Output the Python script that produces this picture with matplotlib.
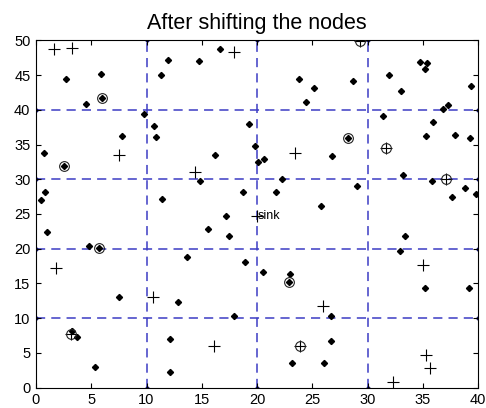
import matplotlib
matplotlib.use("Agg")
import matplotlib.pyplot as plt

plt.rcParams['font.family'] = ['Liberation Sans', 'DejaVu Sans']

# ordinary sensor nodes after the shift
dot_x = [2.70, 5.86, 4.56, 9.79, 10.69, 10.90, 7.81, 11.29, 11.95, 14.77,
         16.60, 23.78, 25.17, 24.43, 19.25, 19.82, 34.77, 35.35, 35.23, 31.95,
         28.71, 33.06, 39.37, 37.24, 36.82, 31.41, 35.92, 35.26, 37.93, 39.30,
         0.72, 0.81, 0.45, 11.38, 0.99, 4.83, 16.15, 20.09, 20.60, 14.86,
         22.22, 18.74, 21.74, 17.18, 15.53, 17.42, 13.66, 26.79, 33.24, 35.83,
         29.00, 38.83, 37.63, 39.76, 25.77, 33.42, 32.97, 7.51, 12.88, 3.30,
         3.72, 12.16, 5.32, 12.10, 18.92, 20.57, 22.95, 17.90, 23.20, 35.16,
         39.13, 26.64, 26.64, 26.04,
         5.95, 2.52, 5.73, 28.20, 22.86]
dot_y = [44.5, 45.2, 40.9, 39.4, 37.6, 36.1, 36.2, 45.0, 47.2, 47.0,
         48.8, 44.4, 43.1, 41.1, 37.9, 34.8, 46.9, 46.7, 45.9, 45.0,
         44.1, 42.65, 43.4, 40.7, 40.1, 39.1, 38.2, 36.2, 36.4, 35.9,
         33.8, 28.2, 27.0, 27.2, 22.4, 20.4, 33.5, 32.5, 32.9, 29.7,
         30.0, 28.1, 28.2, 24.7, 22.8, 21.9, 18.8, 33.4, 30.65, 29.7,
         29.0, 28.7, 27.5, 27.9, 26.2, 21.8, 19.6, 13.0, 12.35, 8.2,
         7.35, 6.97, 2.98, 2.26, 18.07, 16.6, 16.3, 10.3, 3.56, 14.3,
         14.4, 10.3, 6.7, 3.6,
         41.7, 31.9, 20.1, 35.9, 15.2]

# shifted nodes
plus_x = [1.62, 3.27, 17.87, 7.51, 23.40, 14.39, 1.83, 10.63, 16.06, 34.98,
          25.95, 35.26, 35.68, 32.30,
          29.34, 31.68, 37.09, 3.21, 23.87]
plus_y = [48.76, 48.9, 48.3, 33.5, 33.8, 31.1, 17.2, 13.0, 6.0, 17.7,
          11.7, 4.7, 2.8, 0.86,
          49.96, 34.5, 30.0, 7.7, 6.0]

# cluster heads
head_x = [5.95, 2.52, 5.73, 28.20, 22.86, 29.34, 31.68, 37.09, 3.21, 23.87]
head_y = [41.7, 31.9, 20.1, 35.9, 15.2, 49.96, 34.5, 30.0, 7.7, 6.0]

sink_x, sink_y = 20.03, 24.7

grid_x = [10, 20, 30]
grid_y = [10, 20, 30, 40]
xmax, ymax = 40, 50

fig, ax = plt.subplots(figsize=(4.86, 4.08), dpi=100)
fig.subplots_adjust(left=0.074, right=0.984, top=0.901, bottom=0.050)

grid_col = '#3c3cc4'
for gx in grid_x:
    ax.plot([gx, gx], [0, ymax], '--', color=grid_col, lw=1.1, dashes=(6, 4),
            marker='.', ms=4, mfc='#10106a', mec='#10106a', zorder=1)
for gy in grid_y:
    ax.plot([0, xmax], [gy, gy], '--', color=grid_col, lw=1.1, dashes=(6, 4),
            marker='.', ms=4, mfc='#10106a', mec='#10106a', zorder=1)

ax.plot(dot_x, dot_y, 'D', color='black', ms=3.1, ls='none', zorder=3)
ax.plot(plus_x, plus_y, '+', color='black', ms=8, mew=0.8, ls='none', zorder=3)
ax.plot(head_x, head_y, 'o', mfc='none', mec='#222222', ms=7, mew=0.8,
        ls='none', zorder=3)

ax.plot(sink_x, sink_y, '+', color='black', ms=8, mew=0.8, zorder=3)
ax.text(sink_x, sink_y, 'sink', fontsize=9, ha='left', va='center')

ax.set_xlim(0, xmax)
ax.set_ylim(0, ymax)
ax.set_xticks(range(0, 41, 5))
ax.set_yticks(range(0, 51, 5))
ax.tick_params(direction='in', length=3.6, width=0.8, top=True, right=True,
               labelsize=10.5, pad=4)
for s in ax.spines.values():
    s.set_linewidth(0.8)
    s.set_color('black')

ax.set_title('After shifting the nodes', fontsize=15.5, pad=8)

fig.savefig('out.png', dpi=100)
